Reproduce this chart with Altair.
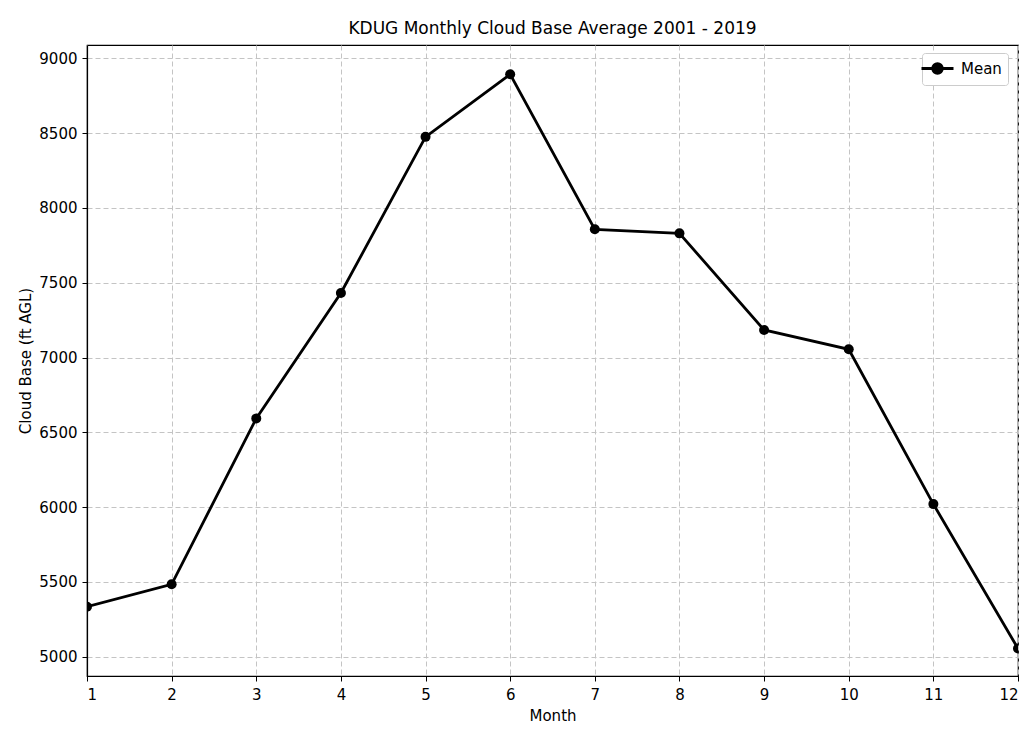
import altair as alt
import pandas as pd

months = list(range(1, 13))
cloud_base = [5334, 5484, 6593, 7431, 8475, 8893, 7857, 7830, 7184, 7055, 6020, 5055]
series = ["Mean"] * 12
x_ticks = list(range(1, 13))
y_ticks = [5000, 5500, 6000, 6500, 7000, 7500, 8000, 8500, 9000]

df = pd.DataFrame({"Month": months, "CloudBase": cloud_base, "Series": series})

FONT = "DejaVu Sans"
legend_symbol = "M-2,0H2M-0.6,0A0.6,0.6 0 1,0 0.6,0A0.6,0.6 0 1,0 -0.6,0Z"

base = alt.Chart(df).encode(
    x=alt.X(
        "Month:Q",
        scale=alt.Scale(domain=[1, 12], nice=False, zero=False),
        axis=alt.Axis(values=x_ticks, title="Month", format="d", grid=True),
    ),
    y=alt.Y(
        "CloudBase:Q",
        scale=alt.Scale(domain=[4871, 9089], nice=False, zero=False),
        axis=alt.Axis(values=y_ticks, title="Cloud Base (ft AGL)", format="d", grid=True),
    ),
    color=alt.Color(
        "Series:N",
        scale=alt.Scale(range=["black"]),
        legend=alt.Legend(
            title=None,
            orient="none",
            legendX=835,
            legendY=8,
            symbolType=legend_symbol,
            symbolSize=256,
            symbolStrokeWidth=2.8,
            symbolFillColor="black",
            symbolStrokeColor="black",
            fillColor="white",
            strokeColor="#cccccc",
            cornerRadius=3,
            padding=6,
            labelFontSize=15,
            labelFont=FONT,
            labelColor="black",
            labelOffset=14,
        ),
    ),
)

line = base.mark_line(strokeWidth=2.8, clip=True)
pts = base.mark_circle(size=100, opacity=1, clip=True)

chart = (
    alt.layer(line, pts)
    .properties(
        width=931,
        height=631,
        padding={"left": 79, "top": 37, "right": 9, "bottom": 48},
        autosize="none",
        title=alt.TitleParams(
            "KDUG Monthly Cloud Base Average 2001 - 2019",
            fontSize=17,
            font=FONT,
            fontWeight="normal",
            anchor="middle",
            offset=7,
            color="black",
        ),
    )
    .configure_view(stroke="black", strokeWidth=1.2)
    .configure_axis(
        labelFont=FONT,
        labelFontSize=15,
        labelColor="black",
        titleFont=FONT,
        titleFontSize=15,
        titleFontWeight="normal",
        titleColor="black",
        domainColor="black",
        domainWidth=1.2,
        tickColor="black",
        tickSize=5,
        tickWidth=1,
        labelPadding=4,
        gridColor="#c4c4c4",
        gridDash=[5, 3],
        gridWidth=1,
    )
    .configure_axisY(titlePadding=5, labelPadding=5)
    .configure_axisX(titlePadding=6, labelPadding=6)
)

chart.save("out.html", embed_options={"renderer": "svg", "actions": False})
